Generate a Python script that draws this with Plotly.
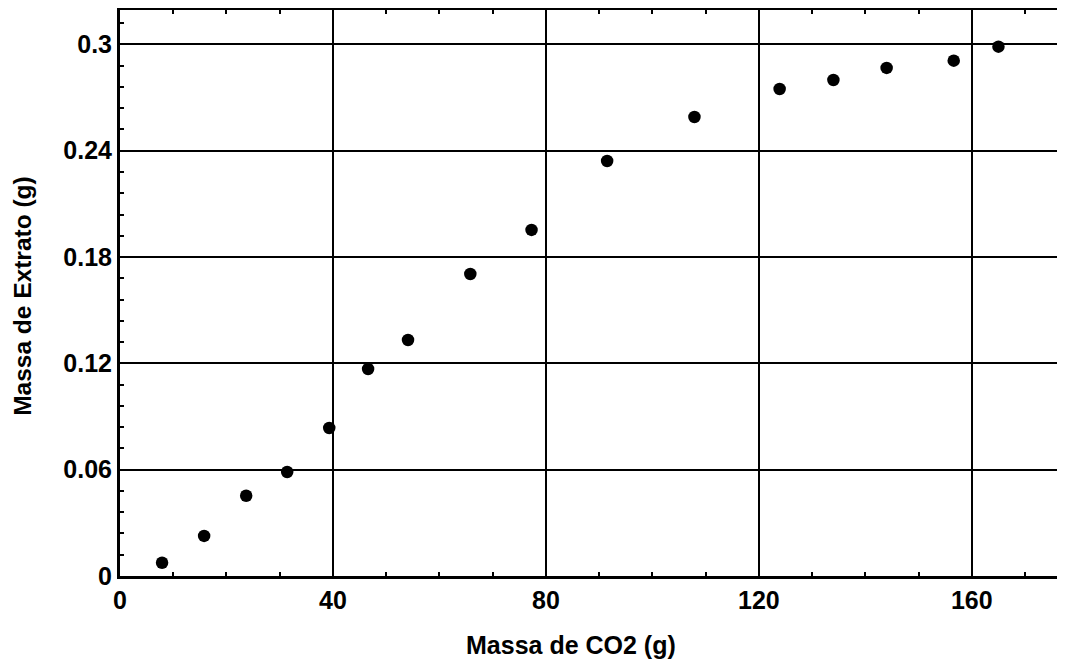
import plotly.graph_objects as go

massa_co2 = [7.9, 15.8, 23.7, 31.4, 39.3, 46.6, 54.1, 65.8, 77.3, 91.5, 107.9, 123.9, 134.0, 144.0, 156.6, 165.0]
massa_extrato = [0.0075, 0.0226, 0.0453, 0.0587, 0.0835, 0.1168, 0.1332, 0.1704, 0.1953, 0.2342,
                 0.2590, 0.2748, 0.2799, 0.2867, 0.2908, 0.2987]
x_ticks = [0, 40, 80, 120, 160]
y_ticks = [0, 0.06, 0.12, 0.18, 0.24, 0.3]
y_tick_labels = ["0", "0.06", "0.12", "0.18", "0.24", "0.3"]
x_title = "Massa de CO2 (g)"
y_title = "Massa de Extrato (g)"

font_family = "Liberation Sans, Arial, sans-serif"

fig = go.Figure()
fig.add_trace(go.Scatter(
    x=massa_co2, y=massa_extrato, mode="markers",
    marker=dict(color="black", size=12.5, line=dict(width=0)),
    showlegend=False, cliponaxis=False,
))

fig.update_layout(
    width=1057, height=655,
    margin=dict(l=112, r=0, t=2, b=87, pad=0),
    paper_bgcolor="white", plot_bgcolor="white",
    font=dict(family=font_family, color="black"),
    xaxis=dict(
        range=[0, 177.5], tickvals=x_ticks, ticktext=[str(v) for v in x_ticks],
        showgrid=True, gridcolor="black", gridwidth=2,
        showline=True, linecolor="black", linewidth=3, mirror="ticks",
        ticks="inside", ticklen=0, zeroline=False,
        tickfont=dict(size=25, family=font_family, weight="bold"),
        minor=dict(dtick=10, tick0=0, ticks="inside", ticklen=4, tickcolor="black", tickwidth=2, showgrid=False),
    ),
    yaxis=dict(
        range=[0, 0.3194], tickvals=y_ticks, ticktext=y_tick_labels,
        showgrid=True, gridcolor="black", gridwidth=2,
        showline=True, linecolor="black", linewidth=3,
        ticks="inside", ticklen=0, zeroline=False,
        tickfont=dict(size=25, family=font_family, weight="bold"),
        minor=dict(dtick=0.012, tick0=0, ticks="inside", ticklen=4, tickcolor="black", tickwidth=2, showgrid=False),
    ),
    annotations=[
        dict(text="<b>" + x_title + "</b>", xref="paper", yref="paper", x=0.477, y=-0.122,
             xanchor="center", yanchor="middle", showarrow=False,
             font=dict(size=25, family=font_family, color="black")),
        dict(text="<b>" + y_title + "</b>", xref="paper", yref="paper", x=-0.1026, y=0.495,
             xanchor="center", yanchor="middle", showarrow=False, textangle=-90,
             font=dict(size=24.5, family=font_family, color="black")),
    ],
)

fig.write_html("out.html")
